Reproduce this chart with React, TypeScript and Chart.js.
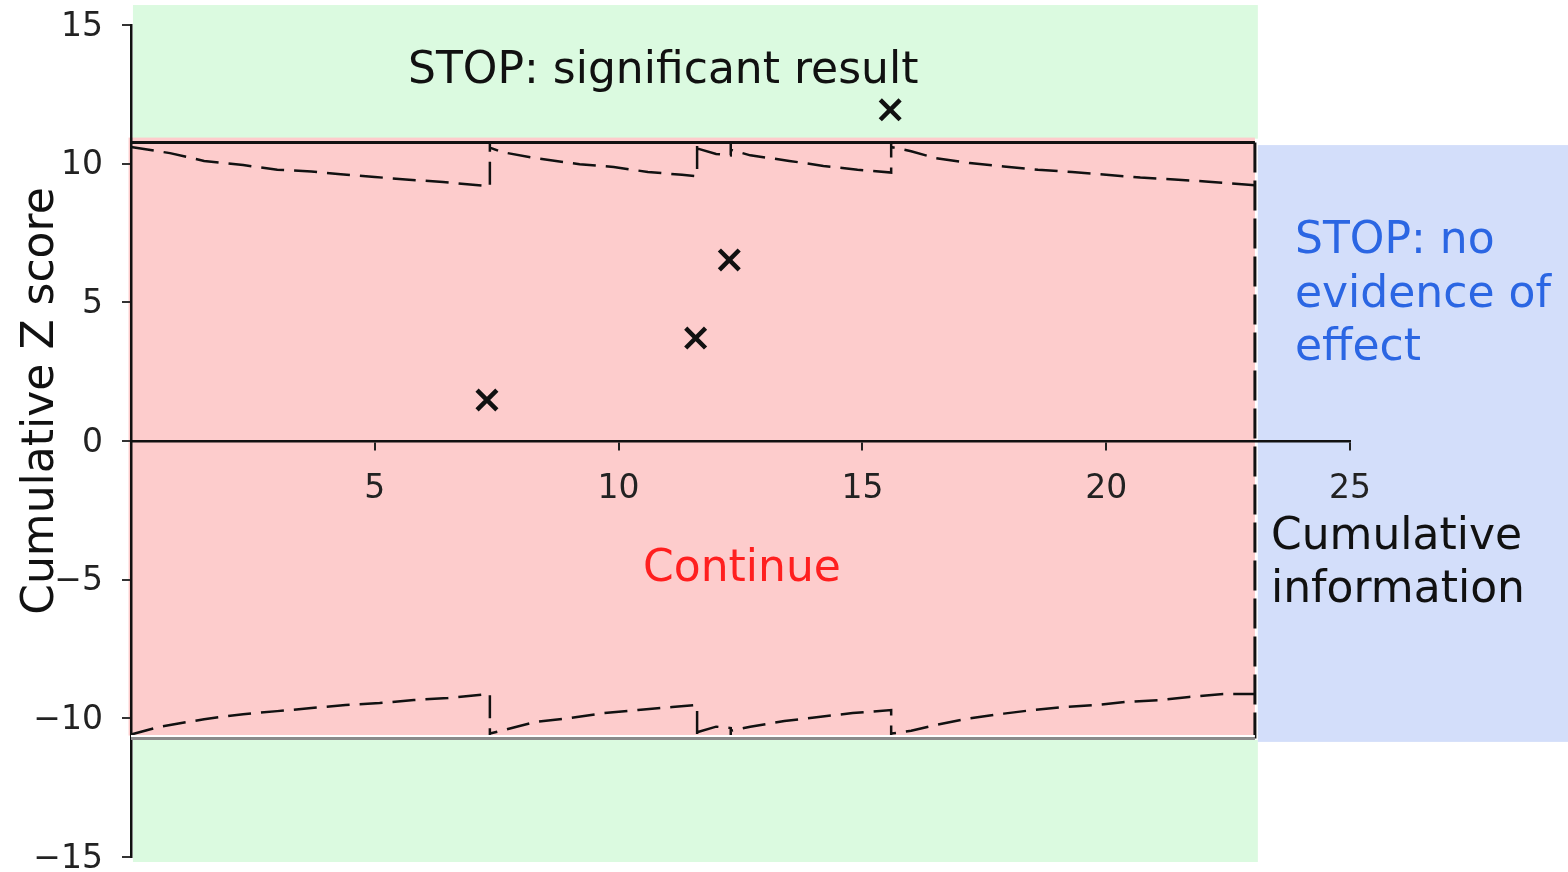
import React, { useEffect, useRef } from 'react';
import { Chart, registerables } from 'chart.js';

Chart.register(...registerables);

// ---- Data ----
const xMin = 0;
const xMax = 25;
const yMin = -15;
const yMax = 15;
const tickStep = 5;

// Observed cumulative Z scores at each interim analysis
const pointX = [7.3, 11.58, 12.27, 15.57];
const pointY = [1.48, 3.71, 6.53, 11.94];

// Upper stopping boundary (dashed, stepped at each analysis)
const upperX = [0, 0.8, 1.5, 2.3, 3.0, 3.7, 4.3, 5.0, 5.7, 6.4, 7.36, 7.36, 7.36, 7.6, 8.3, 9.2, 9.9, 10.6, 11.3, 11.61, 11.61, 11.61, 12.0, 12.3, 12.3, 12.3, 12.7, 13.5, 14.2, 14.9, 15.59, 15.59, 15.59, 16.0, 16.5, 17.2, 17.9, 18.6, 19.3, 20.0, 20.7, 21.4, 22.1, 23.05];
const upperY = [10.6, 10.38, 10.1, 9.95, 9.78, 9.72, 9.62, 9.52, 9.42, 9.34, 9.18, 10.76, 10.58, 10.42, 10.2, 9.98, 9.88, 9.7, 9.6, 9.55, 10.76, 10.55, 10.35, 10.3, 10.76, 10.5, 10.3, 10.1, 9.92, 9.78, 9.68, 10.76, 10.6, 10.45, 10.2, 10.02, 9.9, 9.78, 9.7, 9.6, 9.5, 9.43, 9.35, 9.22];

// Lower stopping boundary
const lowerX = [0, 0.6, 1.5, 2.3, 3.0, 3.7, 4.4, 5.1, 5.8, 6.5, 7.36, 7.36, 7.36, 7.7, 8.3, 9.0, 9.7, 10.4, 11.1, 11.61, 11.61, 11.61, 12.0, 12.3, 12.3, 12.3, 12.7, 13.4, 14.1, 14.8, 15.59, 15.59, 15.59, 16.0, 16.5, 17.2, 17.9, 18.5, 19.1, 19.8, 20.4, 21.1, 21.7, 22.4, 23.05];
const lowerY = [-10.58, -10.3, -10.03, -9.85, -9.74, -9.63, -9.52, -9.45, -9.34, -9.27, -9.12, -10.73, -10.55, -10.4, -10.13, -9.99, -9.81, -9.7, -9.59, -9.52, -10.73, -10.5, -10.3, -10.35, -10.73, -10.45, -10.3, -10.1, -9.95, -9.81, -9.7, -10.73, -10.55, -10.45, -10.24, -10.0, -9.83, -9.7, -9.6, -9.52, -9.41, -9.34, -9.23, -9.12, -9.12];

// Solid limits and the maximum-information line
const topLimitX = [0, 23.05];
const topLimitY = [10.76, 10.76];
const bottomLimitX = [0, 23.05];
const bottomLimitY = [-10.73, -10.73];
const bottomEdgeY = [-10.64, -10.64];
const maxInfoX = [23.05, 23.05];
const maxInfoY = [10.76, -10.73];

// Shaded decision regions (data units)
const regionX0 = [0.04, 0.04, -0.05, 23.11];
const regionX1 = [23.11, 23.11, 23.05, 29.6];
const regionY0 = [10.9, -15.18, -10.62, -10.85];
const regionY1 = [15.72, -10.78, 10.94, 10.67];
const regionColors = ['#dbfae0', '#dbfae0', '#fdcccc', '#d3defa'];

const toPts = (xs: number[], ys: number[]) => xs.map((x, i) => ({ x, y: ys[i] }));

const fmt = (v: number) => (v < 0 ? '\u2212' + Math.abs(v) : String(v));

const regionsPlugin = {
  id: 'regions',
  beforeDraw(chart: any) {
    const { ctx, scales } = chart;
    const xs = scales.x;
    const ys = scales.y;
    ctx.save();
    for (let i = 0; i < regionColors.length; i++) {
      const x0 = xs.getPixelForValue(regionX0[i]);
      const x1 = xs.getPixelForValue(regionX1[i]);
      const y0 = ys.getPixelForValue(regionY0[i]);
      const y1 = ys.getPixelForValue(regionY1[i]);
      ctx.fillStyle = regionColors[i];
      ctx.fillRect(Math.min(x0, x1), Math.min(y0, y1), Math.abs(x1 - x0), Math.abs(y1 - y0));
    }
    ctx.restore();
  },
};

const textPlugin = {
  id: 'texts',
  afterDraw(chart: any) {
    const { ctx } = chart;
    ctx.save();
    ctx.font = '44px "DejaVu Sans"';
    ctx.textBaseline = 'alphabetic';
    ctx.textAlign = 'left';
    ctx.fillStyle = '#111';
    ctx.fillText('STOP: significant result', 408, 83);
    ctx.fillStyle = '#ff1f1f';
    ctx.fillText('Continue', 643, 581);
    ctx.fillStyle = '#2b66e3';
    ctx.fillText('STOP: no', 1295, 253);
    ctx.fillText('evidence of', 1295, 307);
    ctx.fillText('effect', 1295, 360);
    ctx.fillStyle = '#111';
    ctx.fillText('Cumulative', 1271, 549);
    ctx.fillText('information', 1271, 602);
    ctx.translate(53, 401);
    ctx.rotate(-Math.PI / 2);
    ctx.textAlign = 'center';
    ctx.fillText('Cumulative Z score', 0, 0);
    ctx.restore();
  },
};

export default function App() {
  const canvasRef = useRef<HTMLCanvasElement | null>(null);

  useEffect(() => {
    if (!canvasRef.current) return;
    const lineDs = (data: any[], color: string, width: number, dash: number[]) => ({
      type: 'scatter' as const,
      data,
      showLine: true,
      borderColor: color,
      backgroundColor: color,
      borderWidth: width,
      borderDash: dash,
      pointRadius: 0,
      pointHoverRadius: 0,
      tension: 0,
      clip: false as any,
    });
    const chart = new Chart(canvasRef.current, {
      type: 'scatter',
      data: {
        datasets: [
          lineDs(toPts(topLimitX, topLimitY), '#111', 3, []),
          lineDs(toPts(bottomLimitX, bottomEdgeY), '#ffffff', 2, []),
          lineDs(toPts(bottomLimitX, bottomLimitY), '#8a8a8a', 3, []),
          lineDs(toPts(upperX, upperY), '#111', 2.5, [23, 10]),
          lineDs(toPts(lowerX, lowerY), '#111', 2.5, [23, 10]),
          lineDs(toPts(maxInfoX, maxInfoY), '#111', 3, [30, 8]),
          {
            type: 'scatter' as const,
            data: toPts(pointX, pointY),
            showLine: false,
            pointStyle: 'crossRot',
            pointRadius: 14,
            pointBorderWidth: 4.5,
            borderColor: '#111',
            backgroundColor: '#111',
            clip: false,
          } as any,
        ],
      },
      options: {
        animation: false,
        responsive: true,
        maintainAspectRatio: false,
        layout: { autoPadding: false, padding: { left: 0, right: 218, top: 25, bottom: 15 } } as any,
        plugins: { legend: { display: false }, tooltip: { enabled: false } },
        events: [],
        scales: {
          x: {
            type: 'linear',
            min: xMin,
            max: xMax,
            position: { y: 0 } as any,
            afterFit: (s: any) => {
              s.paddingLeft = 0;
              s.paddingRight = 0;
            },
            ticks: {
              stepSize: tickStep,
              padding: 26,
              color: '#222',
              font: { family: 'DejaVu Sans', size: 33, lineHeight: 0.9 },
              callback: (v: any) => (Number(v) === 0 ? '' : fmt(Number(v))),
              maxRotation: 0,
            },
            grid: {
              display: true,
              drawOnChartArea: false,
              drawTicks: true,
              tickLength: 8,
              color: '#222',
              lineWidth: 2,
            },
            border: { display: true, color: '#111', width: 2.5 },
          },
          y: {
            type: 'linear',
            min: yMin,
            max: yMax,
            position: 'left',
            afterFit: (s: any) => {
              s.width = 131;
              s.paddingTop = 0;
              s.paddingBottom = 0;
            },
            ticks: {
              stepSize: tickStep,
              padding: 19,
              labelOffset: 2,
              color: '#222',
              font: { family: 'DejaVu Sans', size: 33, lineHeight: 1.2 },
              callback: (v: any) => fmt(Number(v)),
            },
            grid: {
              display: true,
              drawOnChartArea: false,
              drawTicks: true,
              tickLength: 9,
              color: '#333',
              lineWidth: 2,
            },
            border: { display: true, color: '#111', width: 2.5 },
          },
        },
      },
      plugins: [regionsPlugin, textPlugin],
    });
    return () => chart.destroy();
  }, []);

  return (
    <div style={{ position: 'fixed', left: 0, top: 0, width: 1568, height: 872, background: '#fff' }}>
      <canvas ref={canvasRef} />
    </div>
  );
}
